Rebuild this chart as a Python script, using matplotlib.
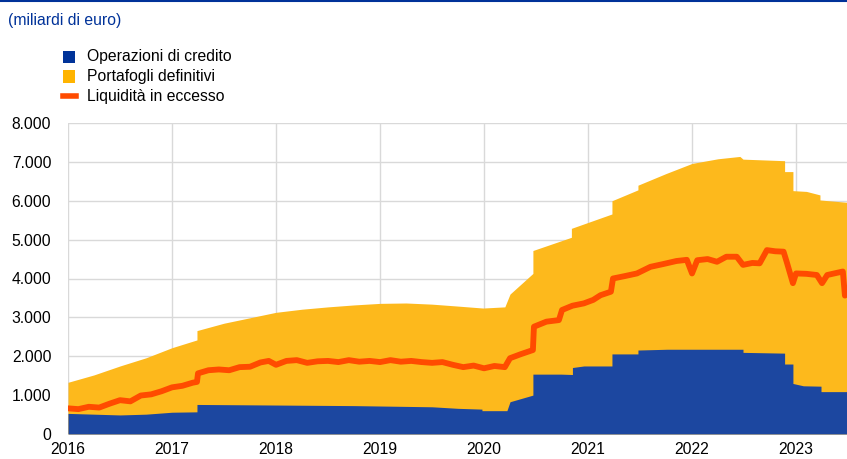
import numpy as np
import matplotlib.pyplot as plt
from matplotlib.patches import Rectangle
from matplotlib.lines import Line2D

plt.rcParams['font.family'] = ['Liberation Sans', 'DejaVu Sans']

# Top of the stack (credit operations + outright portfolios), billions of euro
total_t = [2016.0, 2016.25, 2016.5, 2016.75, 2017.0, 2017.24, 2017.24, 2017.5, 2017.75, 2018.0,
           2018.25, 2018.5, 2018.75, 2019.0, 2019.25, 2019.5, 2019.75, 2019.99, 2020.2, 2020.25,
           2020.47, 2020.47, 2020.84, 2020.84, 2021.23, 2021.23, 2021.48, 2021.48, 2021.75, 2022.0,
           2022.25, 2022.46, 2022.49, 2022.89, 2022.89, 2022.97, 2022.97, 2023.1, 2023.23, 2023.23,
           2023.49]
total_v = [1330, 1520, 1750, 1960, 2220, 2420, 2660, 2850, 2990, 3130,
           3210, 3270, 3320, 3360, 3370, 3340, 3290, 3240, 3270, 3600,
           4130, 4720, 5060, 5290, 5660, 6000, 6280, 6400, 6700, 6960,
           7080, 7140, 7070, 7030, 6750, 6750, 6260, 6240, 6150, 6020,
           5960]

# Credit operations
credit_t = [2016.0, 2016.25, 2016.5, 2016.75, 2017.0, 2017.24, 2017.24, 2017.75, 2018.25, 2018.75,
            2019.25, 2019.5, 2019.75, 2019.98, 2019.98, 2020.22, 2020.25, 2020.47, 2020.47, 2020.74,
            2020.85, 2020.85, 2020.96, 2021.23, 2021.23, 2021.48, 2021.48, 2021.76, 2022.49, 2022.49,
            2022.89, 2022.89, 2022.97, 2022.97, 2023.07, 2023.24, 2023.24, 2023.49]
credit_v = [530, 510, 490, 510, 560, 570, 760, 750, 740, 730,
            710, 700, 660, 640, 600, 600, 830, 1000, 1540, 1540,
            1530, 1710, 1750, 1750, 2060, 2060, 2160, 2180, 2180, 2100,
            2080, 1800, 1800, 1300, 1240, 1230, 1090, 1090]

# Excess liquidity
excess_t = [2016.0, 2016.1, 2016.2, 2016.3, 2016.4, 2016.5, 2016.6, 2016.7, 2016.8, 2016.9,
            2017.0, 2017.1, 2017.2, 2017.24, 2017.25, 2017.35, 2017.45, 2017.55, 2017.65, 2017.75,
            2017.85, 2017.93, 2018.0, 2018.1, 2018.2, 2018.3, 2018.4, 2018.5, 2018.6, 2018.7,
            2018.8, 2018.9, 2019.0, 2019.1, 2019.2, 2019.3, 2019.4, 2019.5, 2019.6, 2019.7,
            2019.8, 2019.9, 2020.0, 2020.1, 2020.2, 2020.25, 2020.35, 2020.47, 2020.48, 2020.6,
            2020.72, 2020.75, 2020.85, 2020.96, 2021.05, 2021.12, 2021.22, 2021.24, 2021.35, 2021.47,
            2021.6, 2021.72, 2021.85, 2021.95, 2022.0, 2022.05, 2022.15, 2022.24, 2022.33, 2022.43,
            2022.49, 2022.58, 2022.65, 2022.72, 2022.8, 2022.88, 2022.91, 2022.97, 2023.0, 2023.1,
            2023.2, 2023.25, 2023.3, 2023.45, 2023.47]
excess_v = [660, 640, 700, 680, 780, 870, 840, 990, 1020, 1100,
            1200, 1240, 1320, 1340, 1560, 1640, 1660, 1640, 1720, 1730,
            1840, 1880, 1780, 1880, 1900, 1830, 1870, 1880, 1850, 1900,
            1860, 1880, 1850, 1900, 1860, 1880, 1850, 1830, 1850, 1780,
            1720, 1760, 1690, 1750, 1720, 1950, 2050, 2160, 2760, 2890,
            2930, 3190, 3300, 3360, 3450, 3570, 3660, 4000, 4060, 4130,
            4300, 4370, 4450, 4480, 4130, 4470, 4500, 4430, 4560, 4560,
            4350, 4400, 4390, 4730, 4700, 4690, 4430, 3880, 4130, 4120,
            4090, 3880, 4090, 4180, 3560]

years = [2016, 2017, 2018, 2019, 2020, 2021, 2022, 2023]
y_ticks = [0, 1000, 2000, 3000, 4000, 5000, 6000, 7000, 8000]
y_labels = ['0', '1.000', '2.000', '3.000', '4.000', '5.000', '6.000', '7.000', '8.000']

blue = '#1c47a0'
yellow = '#fdb91c'
orange = '#ff4b00'
fs = 11.3

fig = plt.figure(figsize=(8.47, 4.59), dpi=100)
ax = fig.add_axes([68 / 847, 1 - 434 / 459, 1 - 68 / 847, (434 - 123) / 459])

# Stacked areas: yellow goes all the way up to the total, blue sits on top of it at the bottom
ax.fill_between(total_t, 0, total_v, color=yellow, lw=0, zorder=2)
ax.fill_between(credit_t, 0, credit_v, color=blue, lw=0, zorder=3)
ax.plot(excess_t, excess_v, color=orange, lw=4.2, solid_joinstyle='round',
        solid_capstyle='round', zorder=4)

ax.set_xlim(2016, 2023.49)
ax.set_ylim(0, 8000)
ax.set_xticks(years)
ax.set_xticklabels([str(y) for y in years])
ax.set_yticks(y_ticks)
ax.set_yticklabels(y_labels)
ax.grid(True, color='#d9d9d9', lw=1, zorder=1)
ax.set_axisbelow(True)
for s in ax.spines.values():
    s.set_visible(False)
ax.tick_params(length=0, labelsize=fs, colors='#000000', pad=12)
ax.tick_params(axis='x', pad=6)

# Top rule and unit label
fig.add_artist(Line2D([0, 1], [1 - 1 / 459, 1 - 1 / 459], color='#003299', lw=1.5))
fig.text(8 / 847, 1 - 20 / 459, '(miliardi di euro)', color='#003299', fontsize=fs,
         va='center', ha='left')

# Legend drawn by hand
leg_items = [('Operazioni di credito', '#003399', 'box'),
             ('Portafogli definitivi', '#ffb400', 'box'),
             ('Liquidità in eccesso', orange, 'line')]
for i, (label, col, kind) in enumerate(leg_items):
    yc = 57 + i * 19.5
    if kind == 'box':
        fig.add_artist(Rectangle((63 / 847, 1 - (yc + 6) / 459), 12 / 847, 12 / 459,
                                 color=col, lw=0))
    else:
        fig.add_artist(Line2D([63 / 847, 76 / 847], [1 - yc / 459, 1 - yc / 459],
                              color=col, lw=4))
    fig.text(87 / 847, 1 - yc / 459, label, fontsize=fs, va='center', ha='left')

fig.savefig('out.png', dpi=100)
